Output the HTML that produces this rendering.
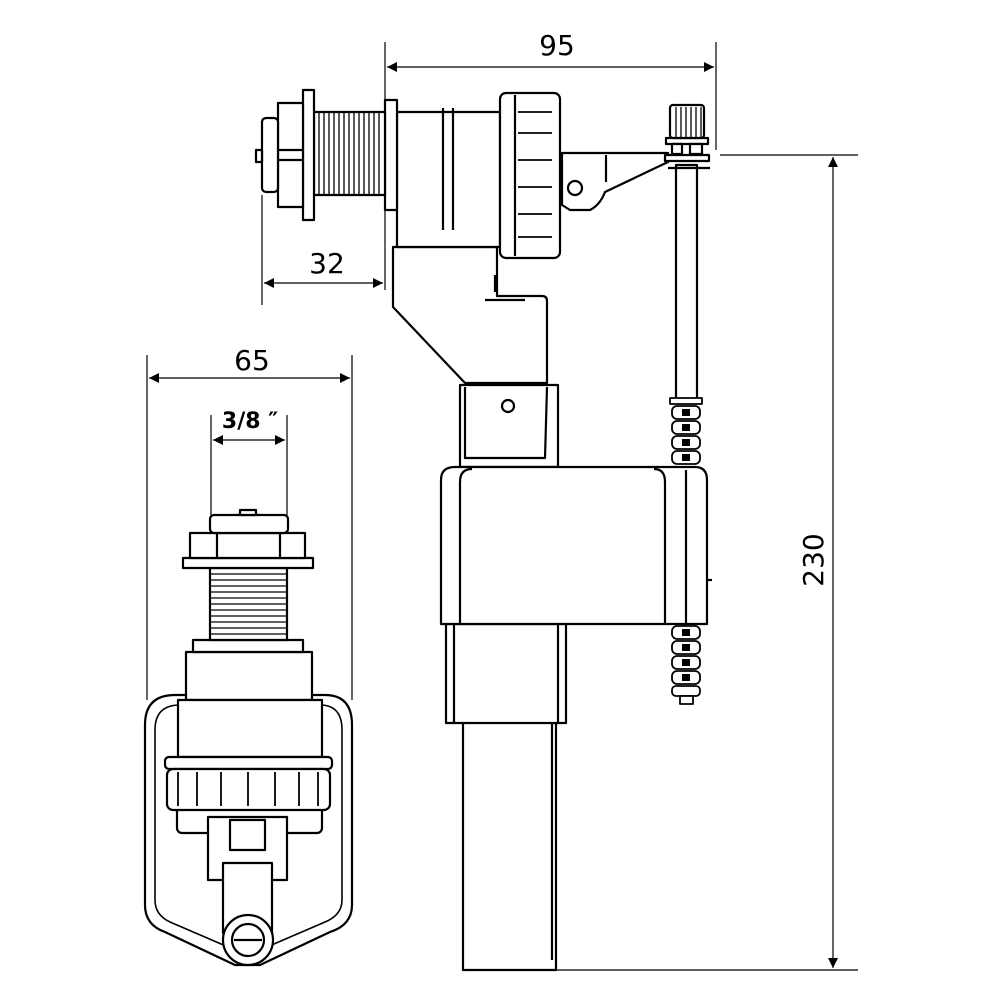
<!DOCTYPE html>
<html><head><meta charset="utf-8"><style>
html,body{margin:0;padding:0;background:#fff;}
svg{display:block;}
text{font-family:"DejaVu Sans","Liberation Sans",sans-serif;fill:#000;}
</style></head><body>
<svg width="1000" height="1000" viewBox="0 0 1000 1000" xmlns="http://www.w3.org/2000/svg">
<defs>
<marker id="a" viewBox="0 0 10 10" refX="10" refY="5" markerWidth="14" markerHeight="10" orient="auto-start-reverse" markerUnits="userSpaceOnUse"><path d="M0,0 L10,5 L0,10 z" fill="#000"/></marker>
</defs>
<g stroke="#000" stroke-width="1.2" fill="none">
<line x1="385" y1="42" x2="385" y2="290"/>
<line x1="716" y1="42" x2="716" y2="150"/>
<line x1="387" y1="67" x2="714" y2="67" marker-start="url(#a)" marker-end="url(#a)"/>
<line x1="262" y1="195" x2="262" y2="305"/>
<line x1="264" y1="283" x2="383" y2="283" marker-start="url(#a)" marker-end="url(#a)"/>
<line x1="147" y1="355" x2="147" y2="700"/>
<line x1="352" y1="355" x2="352" y2="700"/>
<line x1="149" y1="378" x2="350" y2="378" marker-start="url(#a)" marker-end="url(#a)"/>
<line x1="211" y1="415" x2="211" y2="515"/>
<line x1="287" y1="415" x2="287" y2="515"/>
<line x1="213" y1="440" x2="285" y2="440" marker-start="url(#a)" marker-end="url(#a)"/>
<line x1="720" y1="155" x2="858" y2="155"/>
<line x1="555" y1="970" x2="858" y2="970"/>
<line x1="833" y1="157" x2="833" y2="968" marker-start="url(#a)" marker-end="url(#a)"/>
</g>
<text x="557" y="55" font-size="28" text-anchor="middle">95</text>
<text x="327" y="273" font-size="28" text-anchor="middle">32</text>
<text x="252" y="370" font-size="28" text-anchor="middle">65</text>
<text x="250" y="428" font-size="22" font-weight="bold" text-anchor="middle">3/8 ″</text>
<text x="0" y="0" font-size="28" text-anchor="middle" transform="translate(823,560) rotate(-90)">230</text>

<g stroke="#000" stroke-width="2.2" fill="#fff" stroke-linejoin="round">
<rect x="676" y="165" width="21" height="235"/>
<rect x="463" y="715" width="93" height="255"/>
<line x1="552" y1="715" x2="552" y2="960"/>
<rect x="446" y="624" width="120" height="99"/>
<line x1="454" y1="624" x2="454" y2="723"/>
<line x1="558" y1="624" x2="558" y2="723"/>
<rect x="460" y="385" width="98" height="82"/>
<path d="M465,387 L465,458 L545,458 L547,387"/>
<circle cx="508" cy="406" r="6"/>
<path d="M393,247 L393,307 L465,383 L547,383 L547,301 Q547,296 542,296 L497,296 L497,247 Z"/>
<line x1="485" y1="300" x2="525" y2="300"/>
<line x1="495" y1="275" x2="495" y2="292"/>
<path d="M441,480 Q441,467 455,467 L695,467 Q707,467 707,480 L707,624 L441,624 Z"/>
<path d="M460,624 L460,482 Q460,469 472,469"/>
<path d="M665,624 L665,482 Q665,469 654,469"/>
<line x1="686" y1="470" x2="686" y2="624"/>
<line x1="708" y1="580" x2="712" y2="580"/>
<g stroke-width="1.8">
<rect x="670" y="398" width="32" height="6"/>
<rect x="672" y="406" width="28" height="13" rx="5"/>
<rect x="672" y="421" width="28" height="13" rx="5"/>
<rect x="672" y="436" width="28" height="13" rx="5"/>
<rect x="672" y="451" width="28" height="13" rx="5"/>
<rect x="672" y="626" width="28" height="13" rx="5"/>
<rect x="672" y="641" width="28" height="13" rx="5"/>
<rect x="672" y="656" width="28" height="13" rx="5"/>
<rect x="672" y="671" width="28" height="13" rx="5"/>
<rect x="672" y="686" width="28" height="10" rx="4"/>
<rect x="680" y="696" width="13" height="8"/>
</g>
<g fill="#000" stroke="none">
<rect x="682" y="409" width="8" height="7"/><rect x="682" y="424" width="8" height="7"/><rect x="682" y="439" width="8" height="7"/><rect x="682" y="454" width="8" height="7"/>
<rect x="682" y="629" width="8" height="7"/><rect x="682" y="644" width="8" height="7"/><rect x="682" y="659" width="8" height="7"/><rect x="682" y="674" width="8" height="7"/>
</g>
<path d="M562,153 L668,153 L668,162 L605,192 Q600,205 590,210 L570,210 L562,205 Z"/>
<path d="M606,155 L606,182"/>
<circle cx="575" cy="188" r="7"/>
<rect x="666" y="138" width="42" height="6"/>
<rect x="670" y="105" width="34" height="33" rx="3"/>
<g stroke-width="1.3"><line x1="676" y1="107" x2="676" y2="137"/><line x1="681" y1="107" x2="681" y2="137"/><line x1="686" y1="107" x2="686" y2="137"/><line x1="691" y1="107" x2="691" y2="137"/><line x1="696" y1="107" x2="696" y2="137"/><line x1="701" y1="107" x2="701" y2="137"/></g>
<rect x="665" y="155" width="44" height="6"/>
<rect x="672" y="144" width="10" height="10"/><rect x="690" y="144" width="12" height="10"/>
<line x1="668" y1="168" x2="710" y2="168"/>
<rect x="397" y="112" width="103" height="135"/>
<line x1="443" y1="108" x2="443" y2="230"/>
<line x1="453" y1="108" x2="453" y2="230"/>
<rect x="500" y="93" width="60" height="165" rx="6"/>
<line x1="515" y1="95" x2="515" y2="256"/>
<g stroke-width="1.8"><line x1="518" y1="112" x2="552" y2="112"/><line x1="518" y1="133" x2="552" y2="133"/><line x1="518" y1="160" x2="552" y2="160"/><line x1="518" y1="187" x2="552" y2="187"/><line x1="518" y1="214" x2="552" y2="214"/><line x1="518" y1="237" x2="552" y2="237"/></g>
<rect x="385" y="100" width="12" height="110"/>
<rect x="314" y="112" width="71" height="83"/>
<g stroke-width="1.3">
<line x1="319" y1="113" x2="319" y2="194"/><line x1="324" y1="113" x2="324" y2="194"/><line x1="329" y1="113" x2="329" y2="194"/><line x1="334" y1="113" x2="334" y2="194"/><line x1="339" y1="113" x2="339" y2="194"/><line x1="344" y1="113" x2="344" y2="194"/><line x1="349" y1="113" x2="349" y2="194"/><line x1="354" y1="113" x2="354" y2="194"/><line x1="359" y1="113" x2="359" y2="194"/><line x1="364" y1="113" x2="364" y2="194"/><line x1="369" y1="113" x2="369" y2="194"/><line x1="374" y1="113" x2="374" y2="194"/><line x1="379" y1="113" x2="379" y2="194"/>
</g>
<rect x="303" y="90" width="11" height="130"/>
<rect x="278" y="103" width="25" height="104"/>
<line x1="278" y1="150" x2="303" y2="150"/><line x1="278" y1="160" x2="303" y2="160"/>
<rect x="262" y="118" width="16" height="74" rx="4"/>
<rect x="256" y="150" width="6" height="12"/>

<path d="M145,725 Q145,695 175,695 L325,695 Q352,695 352,725 L352,905 Q352,925 330,932 L260,965 L235,965 L165,932 Q145,925 145,905 Z"/>
<path d="M155,730 Q155,705 180,705 L320,705 Q342,705 342,730 L342,900 Q342,915 325,922 L260,950 L235,950 L170,922 Q155,915 155,900 Z" stroke-width="1.6"/>
<rect x="186" y="652" width="126" height="48"/>
<rect x="193" y="640" width="110" height="12"/>
<rect x="178" y="700" width="144" height="57"/>
<rect x="177" y="805" width="145" height="28" rx="5"/>
<rect x="165" y="757" width="167" height="12" rx="4"/>
<rect x="167" y="769" width="163" height="41" rx="6"/>
<g stroke-width="1.8"><line x1="178" y1="772" x2="178" y2="806"/><line x1="197" y1="772" x2="197" y2="806"/><line x1="221" y1="772" x2="221" y2="806"/><line x1="248" y1="772" x2="248" y2="806"/><line x1="275" y1="772" x2="275" y2="806"/><line x1="299" y1="772" x2="299" y2="806"/><line x1="318" y1="772" x2="318" y2="806"/></g>
<rect x="208" y="817" width="79" height="63"/>
<rect x="230" y="820" width="35" height="30"/>
<rect x="223" y="863" width="49" height="70"/>
<circle cx="248" cy="940" r="25"/>
<circle cx="248" cy="940" r="16"/>
<line x1="234" y1="940" x2="262" y2="940"/>
<rect x="210" y="568" width="77" height="72"/>
<g stroke-width="1.3"><line x1="211" y1="574" x2="286" y2="574"/><line x1="211" y1="580" x2="286" y2="580"/><line x1="211" y1="586" x2="286" y2="586"/><line x1="211" y1="592" x2="286" y2="592"/><line x1="211" y1="598" x2="286" y2="598"/><line x1="211" y1="604" x2="286" y2="604"/><line x1="211" y1="610" x2="286" y2="610"/><line x1="211" y1="616" x2="286" y2="616"/><line x1="211" y1="622" x2="286" y2="622"/><line x1="211" y1="628" x2="286" y2="628"/><line x1="211" y1="634" x2="286" y2="634"/></g>
<rect x="183" y="558" width="130" height="10"/>
<rect x="190" y="533" width="115" height="25"/>
<line x1="217" y1="533" x2="217" y2="558"/><line x1="280" y1="533" x2="280" y2="558"/>
<rect x="210" y="515" width="78" height="18" rx="4"/>
<rect x="240" y="510" width="16" height="5"/>
</g>
</svg>
</body></html>
